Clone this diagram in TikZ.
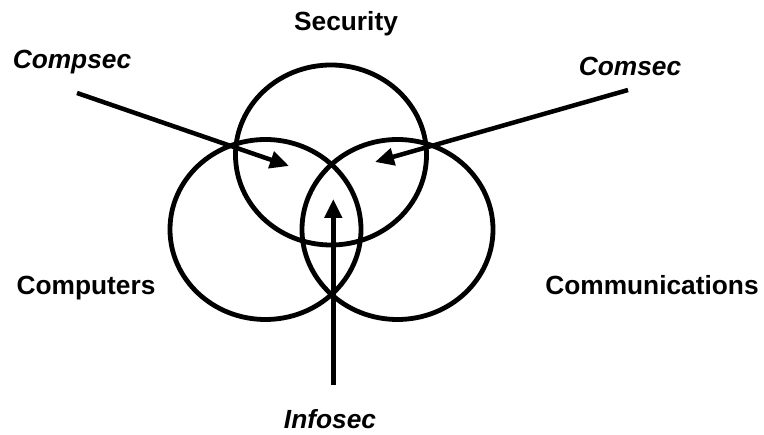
\documentclass[tikz,border=0pt]{standalone}
\usepackage{fontspec}
\setmainfont{Liberation Sans}
\usetikzlibrary{shapes.geometric,arrows.meta}
\begin{document}
\begin{tikzpicture}[x=1pt,y=-1pt,
  venn/.style={draw,ellipse,line width=4.8pt,minimum width=191pt,minimum height=180pt,inner sep=0pt},
  lab/.style={anchor=base,inner sep=0pt,font=\fontsize{26.3}{30}\selectfont\bfseries},
  ilab/.style={lab,font=\fontsize{26.3}{30}\selectfont\bfseries\itshape},
  arr/.style={line width=4.5pt,-{Triangle[length=19pt,width=17pt]}}]
\useasboundingbox (0,0) rectangle (764,435);
\node[venn] (sec) at (331,155) {};
\node[venn] (comp) at (265.5,229.5) {};
\node[venn] (comm) at (397.5,229.5) {};
\node[lab] (tsec) at (346,31) {Security};
\node[lab] (tcomp) at (86,295) {Computers};
\node[lab] (tcomm) at (652,295) {Communications};
\node[ilab] (tcs) at (72,69) {Compsec};
\node[ilab] (tcm) at (630,76) {Comsec};
\node[ilab] (tis) at (330,429) {Infosec};
\coordinate (cs1) at (77,93);
\coordinate (cs2) at (289,166);
\coordinate (cm1) at (628,90);
\coordinate (cm2) at (375,162);
\coordinate (is1) at (333.3,385);
\coordinate (is2) at (333.3,199);
\draw[arr] (cs1) -- (cs2);
\draw[arr] (cm1) -- (cm2);
\draw[arr] (is1) -- (is2);
\end{tikzpicture}
\end{document}
